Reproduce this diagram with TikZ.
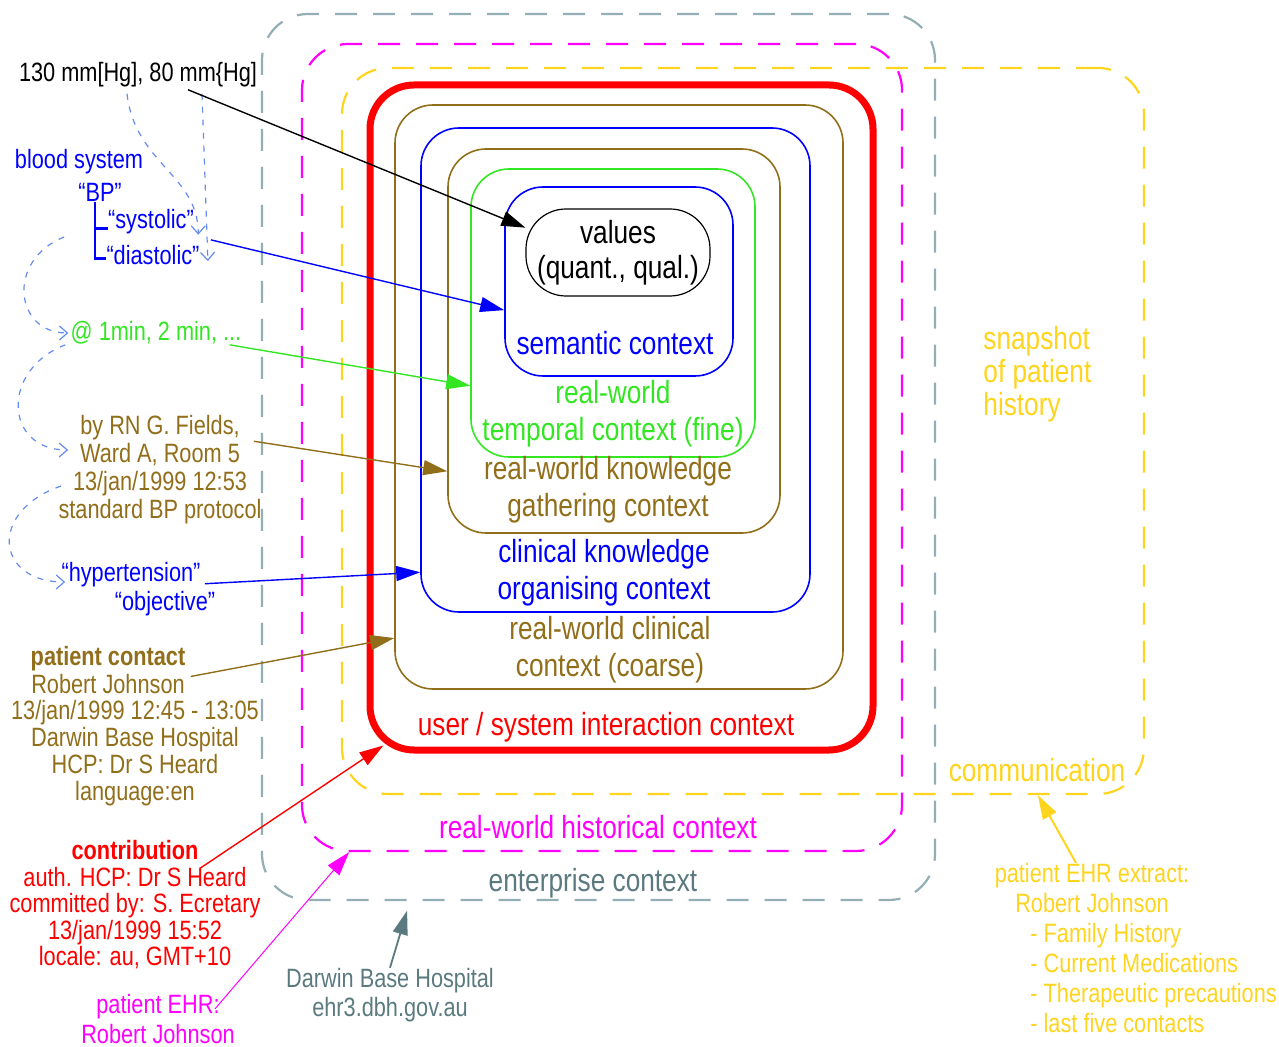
\documentclass[tikz,border=0pt]{standalone}
\usepackage{fontspec}
\setmainfont{Liberation Sans}[FakeStretch=0.82]
\usepackage{tikz}
\usetikzlibrary{arrows.meta, fit, calc}
\definecolor{entGrey}{RGB}{148,174,181}
\definecolor{entText}{RGB}{90,122,128}
\definecolor{histMag}{RGB}{255,0,255}
\definecolor{snapGold}{RGB}{255,212,30}
\definecolor{ctxOlive}{RGB}{145,110,25}
\definecolor{ctxBlue}{RGB}{0,0,255}
\definecolor{ctxGreen}{RGB}{51,230,34}
\definecolor{linkBlue}{RGB}{100,140,240}

\begin{document}
\begin{tikzpicture}[x=0.5pt, y=-0.5pt, >={Triangle[length=12pt,width=7.5pt]},
  ctxbox/.style={draw, inner sep=0pt, rounded corners=19pt, line width=0.8pt},
  outerbox/.style={draw, inner sep=0pt, rounded corners=23pt, line width=1.1pt,
    dash pattern=on 11pt off 8pt},
  ctxlbl/.style={font=\fontsize{16}{18.5}\selectfont, align=center, inner sep=0pt},
  lbl/.style={font=\fontsize{13.25}{14}\selectfont, align=center, inner sep=0pt},
  link/.style={->, line width=0.7pt},
  trace/.style={-{Straight Barb[length=4pt,width=7pt]}, draw=linkBlue,
    line width=0.6pt, dash pattern=on 3pt off 3.5pt},
  treeline/.style={draw=ctxBlue, line width=1.4pt}]
  \useasboundingbox (0,0) rectangle (1279,1047);

  % nested contexts
  \node[outerbox, draw=entGrey, fit={(262,14) (935,900)}] (enterprise) {};
  \node[outerbox, draw=histMag, fit={(302,44) (902,851)}] (history) {};
  \node[outerbox, draw=snapGold, fit={(342,68) (1144,794)}] (snapshot) {};
  \node[draw=red, inner sep=0pt, rounded corners=22pt, line width=3.5pt,
    fit={(370,85) (873,750)}] (interaction) {};
  \node[ctxbox, draw=ctxOlive, fit={(395,105) (843,689)}] (clinical) {};
  \node[ctxbox, draw=ctxBlue, fit={(421,128) (810,612)}] (organising) {};
  \node[ctxbox, draw=ctxOlive, fit={(448,149) (780,533)}] (gathering) {};
  \node[ctxbox, draw=ctxGreen, fit={(471,169) (755,457)}] (temporal) {};
  \node[ctxbox, draw=ctxBlue, fit={(505,187) (733,376)}] (semantic) {};
  \node[draw, rounded corners=20pt, minimum width=92pt, minimum height=43.5pt,
    line width=0.6pt, align=center, font=\fontsize{16}{17.5}\selectfont]
    (values) at (618,252.5) {values\\(quant., qual.)};

  \node[ctxlbl, text=ctxBlue] (semlbl) at (615,343) {semantic context};
  \node[ctxlbl, text=ctxGreen] (templbl) at (613,414) {real-world\\temporal context (fine)};
  \node[ctxlbl, text=ctxOlive] (gathlbl) at (608,490) {real-world knowledge\\gathering context};
  \node[ctxlbl, text=ctxBlue] (orglbl) at (604,573) {clinical knowledge\\organising context};
  \node[ctxlbl, text=ctxOlive] (clinlbl) at (610,650) {real-world clinical\\context (coarse)};
  \node[ctxlbl, text=red] (interlbl) at (606,727) {user / system interaction context};
  \node[ctxlbl, text=histMag] (histlbl) at (598,827) {real-world historical context};
  \node[ctxlbl, text=entText] (entlbl) at (593,883) {enterprise context};
  \node[ctxlbl, text=snapGold, align=left, anchor=west,
    font=\fontsize{16}{16.5}\selectfont] (snaplbl) at (983,374) {snapshot\\of patient\\history};
  \node[ctxlbl, text=snapGold] (commlbl) at (1037,770) {communication};

  % entry labels
  \node[lbl] (reading) at (138,75) {130 mm[Hg], 80 mm\{Hg]};
  \node[lbl, text=ctxBlue] (blood) at (79,162) {blood system};
  \node[lbl, text=ctxBlue] (bp) at (100,192) {“BP”};
  \node[lbl, text=ctxBlue] (systolic) at (151,222) {“systolic”};
  \node[lbl, text=ctxBlue] (diastolic) at (153,255) {“diastolic”};
  \node[lbl, text=ctxGreen] (interval) at (156,333) {@ 1min, 2 min, ...};
  \node[lbl, text=ctxOlive] (gatherer) at (160,470)
    {by RN G. Fields,\\Ward A, Room 5\\13/jan/1999 12:53\\standard BP protocol};
  \node[lbl, text=ctxBlue] (hyper) at (131,575) {“hypertension”};
  \node[lbl, text=ctxBlue] (objective) at (165,604) {“objective”};
  \node[lbl, text=ctxOlive] (contacthead) at (108,670.5)
    {\textbf{patient contact}\\Robert Johnson};
  \node[lbl, text=ctxOlive, font=\fontsize{13.25}{13.5}\selectfont] (contact) at (135,753)
    {13/jan/1999 12:45 - 13:05\\Darwin Base Hospital\\HCP: Dr S Heard\\language:en};
  \node[lbl, text=red, font=\fontsize{13.25}{13.25}\selectfont] (contribution) at (135,905)
    {\textbf{contribution}\\auth. HCP: Dr S Heard\\committed by: S. Ecretary\\13/jan/1999 15:52\\locale: au, GMT+10};
  \node[lbl, text=histMag, font=\fontsize{13.25}{15}\selectfont] (ehr) at (158,1019) {patient EHR:\\Robert Johnson};
  \node[lbl, text=entText, font=\fontsize{13.25}{14.5}\selectfont] (darwin) at (390,995) {Darwin Base Hospital\\ehr3.dbh.gov.au};
  \node[lbl, text=snapGold, font=\fontsize{13.25}{15}\selectfont] (extract) at (1092,888) {patient EHR extract:\\Robert Johnson};
  \node[lbl, text=snapGold, align=left, anchor=west, font=\fontsize{13.25}{15}\selectfont]
    (extractlist) at (1030,978)
    {- Family History\\- Current Medications\\- Therapeutic precautions\\- last five contacts};

  \draw[treeline] ([xshift=-2.5pt]bp.south) |- (systolic.base west);
  \draw[treeline] ([xshift=-2.5pt]bp.south) |- ([yshift=3pt]diastolic.base west);

  % trace of the entry
  \draw[trace] ([xshift=-5.5pt,yshift=-3pt]reading.south) .. controls +(8,70) and +(0,-60) .. ([xshift=2pt]systolic.south east);
  \draw[trace] ([xshift=32pt,yshift=-3pt]reading.south) -- ([xshift=4pt,yshift=2pt]diastolic.south east);
  \draw[trace] ([xshift=-21pt,yshift=9pt]diastolic.west) .. controls +(-58,23) and +(-54,0) .. ([xshift=-1pt]interval.west);
  \draw[trace] ([xshift=-2.5pt]interval.south west) .. controls +(-65,25) and +(-64,0) .. ([xshift=5pt,yshift=10pt]gatherer.west);
  \draw[trace] ([xshift=1.5pt,yshift=-8pt]gatherer.west) .. controls +(-73,25) and +(-70,0) .. ([xshift=2pt,yshift=-3.5pt]hyper.west);

  % links into the contexts
  \draw[link] ([xshift=25pt,yshift=-1pt]reading.south) -- (values.165);
  \draw[link, ctxBlue] ([xshift=5.5pt,yshift=2.5pt]diastolic.north east) -- (semantic.194.5);
  \draw[link, ctxGreen] ([xshift=-6pt]interval.south east) -- (temporal.207.5);
  \draw[link, ctxOlive] ([xshift=-4pt,yshift=-13pt]gatherer.north east) -- (gathering.218.7);
  \draw[link, ctxBlue] ([xshift=2pt,yshift=2pt]hyper.south east) -- (organising.226.8);
  \draw[link, ctxOlive] ([xshift=2.5pt,yshift=-3pt]contacthead.east) -- (clinical.227.8);
  \draw[link, red] ([xshift=32.5pt,yshift=-14pt]contribution.north) -- ([xshift=3pt,yshift=4pt]interaction.234.4);
  \draw[link, histMag, line width=0.5pt] ([xshift=28.5pt,yshift=-7.5pt]ehr.north) -- (history.238.3);
  \draw[link, entText, line width=0.9pt, shorten >=5pt] (darwin.north) -- (enterprise.247.7);
  \draw[link, snapGold, line width=1pt] ([xshift=-8pt]extract.north) -- (snapshot.-51);
\end{tikzpicture}
\end{document}
